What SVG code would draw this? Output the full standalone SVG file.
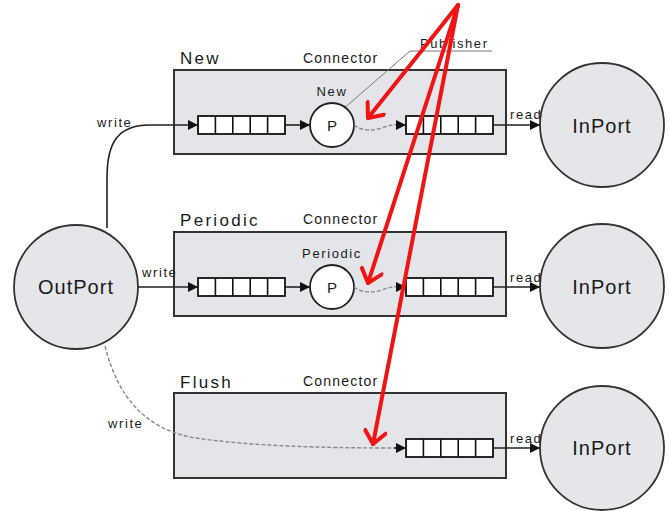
<svg xmlns="http://www.w3.org/2000/svg" width="669" height="511" viewBox="0 0 669 511">
  <style>
    text { font-family: "Liberation Sans", Arial, sans-serif; fill: #1a1a1a; }
    .box { fill: #e3e5e9; stroke: #333; stroke-width: 2; }
    .port { fill: #e5e6e9; stroke: #333; stroke-width: 1.8; }
    .pub { fill: #fff; stroke: #222; stroke-width: 1.8; }
    .cell { fill: #fff; stroke: #111; stroke-width: 1.8; }
    .title { font-size: 17px; letter-spacing: 2.3px; }
    .conn { font-size: 14px; letter-spacing: 1.2px; }
    .lbl { font-size: 13px; letter-spacing: 1.6px; }
    .portname { font-size: 20px; letter-spacing: 1px; text-anchor: middle; }
    .wire { fill: none; stroke: #222; stroke-width: 1.6; }
    .dash { fill: none; stroke: #888; stroke-width: 1.4; stroke-dasharray: 4 2; }
    .red { fill: none; stroke: #f01414; stroke-width: 4; stroke-linecap: round; }
  </style>
  <defs>
    <marker id="tri" viewBox="0 0 10 10" refX="10" refY="5" markerWidth="10" markerHeight="10" markerUnits="userSpaceOnUse" orient="auto">
      <path d="M0,0 L10,5 L0,10 Z" fill="#111"/>
    </marker>
    <marker id="vee" viewBox="0 0 24 24" refX="20" refY="12" markerWidth="24" markerHeight="24" markerUnits="userSpaceOnUse" orient="auto">
      <path d="M7.5,1.5 L20,12 L7.5,22.5" fill="none" stroke="#f01414" stroke-width="4" stroke-linecap="round" stroke-linejoin="round"/>
    </marker>
    <g id="queue">
      <rect class="cell" x="0" y="-9" width="87" height="18"/>
      <path d="M17.4,-9 V9 M34.8,-9 V9 M52.2,-9 V9 M69.6,-9 V9" stroke="#111" stroke-width="1.6"/>
    </g>
  </defs>

  <!-- connector boxes -->
  <g id="new-connector">
    <rect class="box" x="174" y="70" width="332" height="84"/>
    <text class="title" x="180" y="64">New</text>
    <text class="conn" x="303" y="63">Connector</text>
    <text class="lbl" x="420" y="48">Publisher</text>
    <path d="M410,51 H492 M410,51 L342,110" fill="none" stroke="#777" stroke-width="1"/>
    <use href="#queue" x="198" y="125"/>
    <use href="#queue" x="406" y="125"/>
    <circle class="pub" cx="332" cy="125" r="22"/>
    <text x="332" y="131" font-size="15" text-anchor="middle">P</text>
    <text class="lbl" x="332" y="96" text-anchor="middle" letter-spacing="1.5">New</text>
  </g>

  <g id="periodic-connector">
    <rect class="box" x="174" y="232" width="332" height="84"/>
    <text class="title" x="180" y="226">Periodic</text>
    <text class="conn" x="303" y="224">Connector</text>
    <use href="#queue" x="198" y="287"/>
    <use href="#queue" x="406" y="287"/>
    <circle class="pub" cx="332" cy="287" r="22"/>
    <text x="332" y="293" font-size="15" text-anchor="middle">P</text>
    <text class="lbl" x="332" y="258" text-anchor="middle" letter-spacing="1.3">Periodic</text>
  </g>

  <g id="flush-connector">
    <rect class="box" x="174" y="393" width="332" height="85"/>
    <text class="title" x="180" y="388">Flush</text>
    <text class="conn" x="303" y="386">Connector</text>
    <use href="#queue" x="406" y="448"/>
  </g>

  <!-- ports -->
  <g id="outport">
    <circle class="port" cx="76" cy="287" r="62"/>
    <text class="portname" x="76" y="294" letter-spacing="0.8">OutPort</text>
  </g>
  <g id="inport-new">
    <circle class="port" cx="602" cy="125" r="62"/>
    <text class="portname" x="602" y="133">InPort</text>
  </g>
  <g id="inport-periodic">
    <circle class="port" cx="602" cy="286" r="62"/>
    <text class="portname" x="602" y="294">InPort</text>
  </g>
  <g id="inport-flush">
    <circle class="port" cx="602" cy="448" r="62"/>
    <text class="portname" x="602" y="455">InPort</text>
  </g>

  <!-- connectors -->
  <g id="connectors">
    <!-- write paths from OutPort -->
    <path class="wire" d="M107,228 L107,178 C107,142 118,125 150,125 L198,125" marker-end="url(#tri)"/>
    <path class="wire" d="M138,287 L198,287" marker-end="url(#tri)"/>
    <path class="dash" d="M105,346 C118,398 146,430 196,438 C250,446 320,448 396,448"/>
    <path class="wire" d="M394,448 L406,448" marker-end="url(#tri)"/>
    <!-- inside the connectors -->
    <path class="wire" d="M285,125 L310,125" marker-end="url(#tri)"/>
    <path class="wire" d="M285,287 L310,287" marker-end="url(#tri)"/>
    <path class="dash" d="M354,125 C362,131 372,131 382,128 C390,125 396,124 398,125"/>
    <path class="wire" d="M396,125 L406,125" marker-end="url(#tri)"/>
    <path class="dash" d="M354,287 C362,293 372,293 382,290 C390,287 396,286 398,287"/>
    <path class="wire" d="M396,287 L406,287" marker-end="url(#tri)"/>
    <!-- read paths into InPorts -->
    <path class="wire" d="M493,125 L540,125" marker-end="url(#tri)"/>
    <path class="wire" d="M493,287 L540,287" marker-end="url(#tri)"/>
    <path class="wire" d="M493,448 L540,448" marker-end="url(#tri)"/>
    <text class="lbl" x="97" y="127" letter-spacing="1.8">write</text>
    <text class="lbl" x="142" y="277" letter-spacing="1.8">write</text>
    <text class="lbl" x="108" y="428" letter-spacing="1.8">write</text>
    <text class="lbl" x="510" y="119" letter-spacing="1.8">read</text>
    <text class="lbl" x="510" y="282" letter-spacing="1.8">read</text>
    <text class="lbl" x="510" y="443" letter-spacing="1.8">read</text>
    <!-- red pointers -->
    <path class="red" d="M458,5 L368,118" marker-end="url(#vee)"/>
    <path class="red" d="M458,5 L368,283" marker-end="url(#vee)"/>
    <path class="red" d="M458,5 L373,444" marker-end="url(#vee)"/>
  </g>
</svg>
